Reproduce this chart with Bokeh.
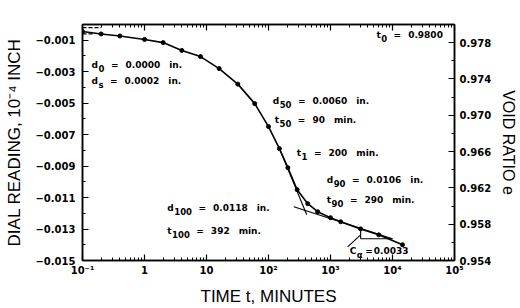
import math
from bokeh.plotting import figure
from bokeh.models import (Range1d, LinearAxis, LogAxis, FixedTicker, ColumnDataSource,
                          CustomJSTickFormatter)
from bokeh.core.properties import value
from bokeh.embed import file_html
from bokeh.resources import INLINE

# ---- consolidation data (time in minutes, dial reading in inches) ----
time_min = [0.1, 0.2, 0.4, 1, 2, 4, 8, 16, 32, 60, 100, 150, 205, 290, 430, 620,
            1000, 1460, 3060, 6000, 14500]
dial_in = [-0.00045, -0.0006, -0.00073, -0.00095, -0.00115, -0.00165, -0.00204,
           -0.0028, -0.00379, -0.00503, -0.00649, -0.00789, -0.0091, -0.0105,
           -0.01139, -0.0119, -0.01228, -0.01254, -0.01299, -0.01337, -0.014]

# ---- construction lines ----
tangent_t = [150, 414]
tangent_d = [-0.00789, -0.01209]
secondary_t = [256, 10000]
secondary_d = [-0.01158, -0.01362]
ca_base_t = [3060, 10000]
ca_base_d = [-0.01362, -0.01362]
ca_rise_t = [3060, 3060]
ca_rise_d = [-0.01299, -0.01362]
ca_leader_t = [1890, 3060]
ca_leader_d = [-0.01413, -0.01337]
ds_mark_t = [0.1, 0.2]
ds_mark_d = [-0.0002, -0.0002]
d0_mark_t = [0.1, 0.15]
d0_mark_d = [-0.0006, -0.0006]

# ---- annotations ----
ann_base = ["d", "d", "t", "d", "t", "t", "d", "t", "d", "t", "C"]
ann_sub = ["0", "s", "0", "50", "50", "1", "90", "90", "100", "100", "α"]
ann_value = ["0.0000", "0.0002", "0.9800", "0.0060", "90", "200", "0.0106", "290",
             "0.0118", "392", "0.0033"]
ann_unit = ["in.", "in.", "", "in.", "min.", "min.", "in.", "min.", "in.", "min.", ""]
ann_t = [0.14, 0.14, 5500, 117, 126, 286, 870, 870, 2.33, 2.33, 2040]
ann_d = [-0.00255, -0.00356, -0.00064, -0.00484, -0.00605, -0.00815, -0.00987,
         -0.01114, -0.01165, -0.01311, -0.01439]
ann_wide = [True, True, True, True, True, True, True, True, True, True, False]

# ---- ticks ----
left_ticks = [-0.015, -0.013, -0.011, -0.009, -0.007, -0.005, -0.003, -0.001]
left_labels = ["−0.015", "−0.013", "−0.011", "−0.009", "−0.007", "−0.005", "−0.003", "−0.001"]
left_minor = [-0.014, -0.012, -0.010, -0.008, -0.006, -0.004, -0.002, 0.0]
right_ticks = [0.954, 0.958, 0.962, 0.966, 0.970, 0.974, 0.978]
right_labels = ["0.954", "0.958", "0.962", "0.966", "0.970", "0.974", "0.978"]
right_minor = [0.956, 0.960, 0.964, 0.968, 0.972, 0.976, 0.980]
x_ticks = [0.1, 1, 10, 100, 1000, 10000, 100000]
x_labels = ["10⁻¹", "1", "10", "10²", "10³", "10⁴", "10⁵"]
x_minor = [k * 10.0 ** e for e in range(-1, 5) for k in range(2, 10)]

FONT = "DejaVu Sans"
LABEL_FONT = "Liberation Sans"

LOOKUP = """
let best = 0, bd = Infinity;
for (let i = 0; i < tv.length; i++) {
  const d = Math.abs(tv[i] - tick) / Math.max(Math.abs(tv[i]), 1e-12);
  if (d < bd) { bd = d; best = i; }
}
return bd < 1e-6 ? lv[best] : "";
"""

def fmt(tvals, lvals):
    return CustomJSTickFormatter(args=dict(tv=tvals, lv=lvals), code=LOOKUP)

p = figure(width=520, height=308, x_axis_type="log",
           x_range=Range1d(0.1, 1e5), y_range=Range1d(-0.015, 0.0),
           output_backend="svg", toolbar_location=None,
           min_border_left=82, min_border_right=65, min_border_top=24,
           min_border_bottom=45, background_fill_color="white",
           border_fill_color="white")
p.grid.visible = False
p.outline_line_color = "black"
p.outline_line_width = 1.5

def style(ax):
    ax.axis_line_color = "black"
    ax.axis_line_width = 1.5
    ax.major_tick_in = 6
    ax.major_tick_out = 0
    ax.minor_tick_in = 3
    ax.minor_tick_out = 0
    ax.major_tick_line_width = 1.2
    ax.minor_tick_line_width = 1.0
    ax.major_label_text_font = FONT
    ax.major_label_text_font_style = "bold"
    ax.major_label_text_font_size = "10px"
    ax.major_label_text_color = "black"
    ax.axis_label_text_font = LABEL_FONT
    ax.axis_label_text_font_style = "normal"
    ax.axis_label_text_font_size = "17px"
    ax.axis_label_text_color = "black"

# bottom x axis
xb = p.xaxis[0]
xb.ticker = FixedTicker(ticks=x_ticks, minor_ticks=x_minor)
xb.formatter = fmt(x_ticks, x_labels)
xb.axis_label = "TIME t, MINUTES"
style(xb)
xb.major_label_standoff = 4
xb.axis_label_standoff = 8

# left y axis
yl = p.yaxis[0]
yl.ticker = FixedTicker(ticks=left_ticks, minor_ticks=left_minor)
yl.formatter = fmt(left_ticks, left_labels)
yl.axis_label = "DIAL READING, 10⁻⁴ INCH"
style(yl)
yl.major_label_standoff = 7
yl.axis_label_standoff = 8

# right y axis (void ratio)
p.extra_y_ranges = {"e": Range1d(0.954, 0.980)}
yr = LinearAxis(y_range_name="e",
                ticker=FixedTicker(ticks=right_ticks, minor_ticks=right_minor))
yr.formatter = fmt(right_ticks, right_labels)
yr.axis_label = "VOID RATIO e"
style(yr)
yr.axis_label_text_font_size = "16px"
yr.major_label_standoff = 5
yr.axis_label_standoff = 6
try:
    yr.axis_label_orientation = "vertical"
except Exception:
    pass
p.add_layout(yr, "right")

# top axis (ticks only)
xt = LogAxis(ticker=FixedTicker(ticks=x_ticks, minor_ticks=x_minor),
             formatter=CustomJSTickFormatter(code='return "";'))
style(xt)
xt.major_label_text_font_size = "2px"
xt.major_label_standoff = 0
p.add_layout(xt, "above")

# construction lines
for tt, dd in [(tangent_t, tangent_d), (secondary_t, secondary_d),
               (ca_base_t, ca_base_d), (ca_rise_t, ca_rise_d),
               (ca_leader_t, ca_leader_d)]:
    p.line(tt, dd, line_color="black", line_width=1.1)
p.line(ds_mark_t, ds_mark_d, line_color="black", line_width=1.2, line_dash="4 2")
p.line(d0_mark_t, d0_mark_d, line_color="black", line_width=1.2, line_dash="4 2")

# data curve
p.line(time_min, dial_in, line_color="black", line_width=1.6)
p.scatter(time_min, dial_in, size=4, fill_color="black", line_color="black")

# annotations: base letter, subscript, "=", value, unit
W = {"d": 0.716, "t": 0.478, "C": 0.734, "s": 0.595, "α": 0.70, ".": 0.38,
     "=": 0.838}
MAIN = 9.0
SUB = 8.5
def w(s, size):
    return sum(W.get(c, 0.696) for c in s) * size

sub_off, eq_off, val_off, unit_off = [], [], [], []
for b, s, v, wide in zip(ann_base, ann_sub, ann_value, ann_wide):
    bw = w(b, MAIN)
    sw = w(s, SUB)
    g1, g2, g3 = (7, 7, 9) if wide else (3, 1, 0)
    sub_off.append(bw + 0.5)
    e = bw + sw + g1
    eq_off.append(e)
    vo = e + w("=", MAIN) + g2
    val_off.append(vo)
    unit_off.append(vo + w(v, MAIN) + g3)

src = ColumnDataSource(dict(x=ann_t, y=ann_d, base=ann_base, sub=ann_sub,
                            eq=["="] * len(ann_base), val=ann_value, unit=ann_unit,
                            sub_off=sub_off, eq_off=eq_off, val_off=val_off,
                            unit_off=unit_off))
common = dict(text_font=value(FONT), text_font_style="bold", text_color="black",
              text_baseline="alphabetic", text_align="left", source=src)
p.text(x="x", y="y", text="base", text_font_size=f"{MAIN}px", **common)
p.text(x="x", y="y", text="sub", x_offset="sub_off", y_offset=4,
       text_font_size=f"{SUB}px", **common)
p.text(x="x", y="y", text="eq", x_offset="eq_off", text_font_size=f"{MAIN}px", **common)
p.text(x="x", y="y", text="val", x_offset="val_off", text_font_size=f"{MAIN}px", **common)
p.text(x="x", y="y", text="unit", x_offset="unit_off", text_font_size=f"{MAIN}px", **common)

open("out.html", "w").write(file_html(p, INLINE))
